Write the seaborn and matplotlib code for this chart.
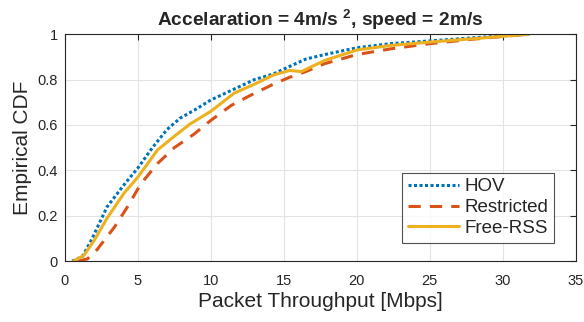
import pandas as pd
import seaborn as sns
import matplotlib.pyplot as plt

# CDF points (throughput in Mbps, cumulative probability)
hov_x = [0.5, 1.2, 1.8, 2.9, 4.1, 5.0, 6.0, 7.0, 7.9, 9.0, 10.0, 11.0, 12.0, 13.0, 14.3, 15.3, 16.5, 17.8, 20.0, 22.3, 25.0, 28.0, 31.8]
hov_y = [0.0, 0.02, 0.09, 0.24, 0.34, 0.41, 0.50, 0.58, 0.63, 0.67, 0.71, 0.74, 0.77, 0.80, 0.825, 0.855, 0.89, 0.91, 0.94, 0.958, 0.97, 0.984, 1.0]

restricted_x = [0.9, 1.55, 2.2, 3.4, 4.3, 5.2, 6.35, 7.5, 8.86, 10.0, 11.4, 12.7, 14.3, 15.4, 16.5, 17.8, 20.0, 22.3, 25.0, 28.0, 31.8]
restricted_y = [0.0, 0.01, 0.05, 0.15, 0.24, 0.34, 0.43, 0.50, 0.56, 0.62, 0.686, 0.73, 0.78, 0.81, 0.835, 0.87, 0.91, 0.935, 0.958, 0.978, 1.0]

freerss_x = [0.6, 1.3, 2.0, 2.9, 4.06, 5.0, 6.35, 7.5, 8.6, 10.0, 11.6, 13.0, 14.3, 15.4, 16.2, 17.8, 20.0, 22.3, 25.0, 28.0, 31.8]
freerss_y = [0.0, 0.025, 0.09, 0.19, 0.30, 0.37, 0.49, 0.55, 0.605, 0.66, 0.74, 0.78, 0.82, 0.84, 0.835, 0.884, 0.93, 0.95, 0.965, 0.98, 1.0]

series = ["HOV", "Restricted", "Free-RSS"]

df = pd.concat([
    pd.DataFrame({"x": hov_x, "y": hov_y, "Method": "HOV"}),
    pd.DataFrame({"x": restricted_x, "y": restricted_y, "Method": "Restricted"}),
    pd.DataFrame({"x": freerss_x, "y": freerss_y, "Method": "Free-RSS"}),
])

sns.set_style("whitegrid")
plt.rcParams['font.family'] = ['Liberation Sans', 'DejaVu Sans']
plt.rcParams['mathtext.fontset'] = 'custom'
plt.rcParams['mathtext.rm'] = 'Liberation Sans'
plt.rcParams['mathtext.bf'] = 'Liberation Sans:bold'

colors = {"HOV": "#0072BD", "Restricted": "#D95319", "Free-RSS": "#EDB120"}
styles = {"HOV": (0, (1, 0.8)), "Restricted": (0, (4, 3)), "Free-RSS": "-"}

fig = plt.figure(figsize=(5.84, 3.22), dpi=100)
ax = fig.add_axes([0.111, 0.189, 0.875, 0.705])

for name in series:
    sns.lineplot(data=df[df.Method == name], x="x", y="y", sort=False, estimator=None,
                 color=colors[name], linestyle=styles[name], linewidth=2.2, label=name, ax=ax)

ax.set_xlim(0, 35)
ax.set_ylim(0, 1)
ax.set_xticks(range(0, 36, 5))
ax.set_yticks([0, 0.2, 0.4, 0.6, 0.8, 1])
ax.set_yticklabels(["0", "0.2", "0.4", "0.6", "0.8", "1"])
ax.grid(True, color="#e3e3e3", linewidth=0.8)
for s in ax.spines.values():
    s.set_color("#262626")
    s.set_linewidth(0.8)
ax.tick_params(direction="in", length=4, width=0.8, color="#262626", labelsize=10.5,
               top=True, right=True, labelcolor="#262626")
ax.tick_params(axis="x", pad=9)
ax.tick_params(axis="y", pad=5)

ax.set_xlabel("Packet Throughput [Mbps]", fontsize=15, color="#262626", labelpad=3)
ax.set_ylabel("Empirical CDF", fontsize=15, color="#262626", labelpad=4)
ax.set_title(r"Accelaration = 4m/s $^{\mathbf{2}}$, speed = 2m/s", fontsize=13.8,
             fontweight="bold", pad=6)

leg = ax.legend(loc="lower right", fontsize=13.5, frameon=True, fancybox=False,
                borderpad=0.3, handlelength=2.7, handletextpad=0.3, labelspacing=0.2,
                bbox_to_anchor=(0.975, 0.04))
leg.get_frame().set_edgecolor("#262626")
leg.get_frame().set_linewidth(0.8)

fig.savefig("out.png", dpi=100)
